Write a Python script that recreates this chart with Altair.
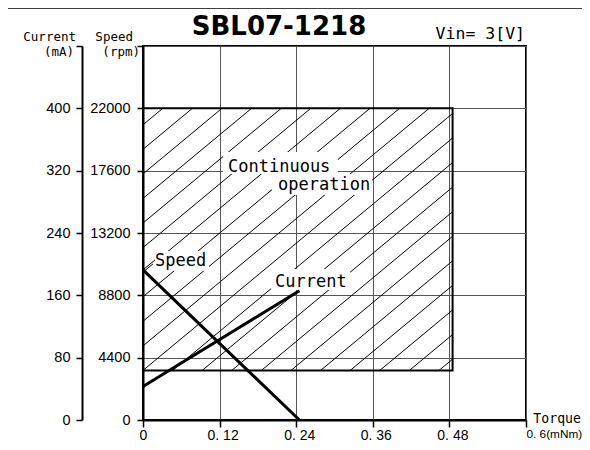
import json
import altair as alt
import pandas as pd

# ---------------- data ----------------
torque_ticks = [0, 0.12, 0.24, 0.36, 0.48, 0.6]
torque_tick_labels = ["0", "0. 12", "0. 24", "0. 36", "0. 48", "0. 6(mNm)"]
speed_ticks = [0, 4400, 8800, 13200, 17600, 22000, 26400]
speed_tick_labels = ["0", "4400", "8800", "13200", "17600", "22000", ""]
current_ticks = [0, 80, 160, 240, 320, 400, 480]
current_tick_labels = ["0", "80", "160", "240", "320", "400", ""]

speed_torque = [0, 0.245]
speed_rpm = [10600, 0]
current_torque = [0, 0.245]
current_ma = [43, 166]

op_torque = [0, 0.485]
op_speed = [3500, 22000]

plot_labels = ["Speed", "Continuous", "operation", "Current"]
title_text = "SBL07-1218"
vin_text = "Vin= 3[V]"

# ---------------- layout ----------------
W, H = 383, 374
PAD_L, PAD_T, PAD_R, PAD_B = 135, 38, 56, 22
X_MAX, SPD_MAX, CUR_MAX = 0.6, 26400, 480
ORIGIN_X, ORIGIN_Y = 8 + PAD_L, 8 + PAD_T          # page position of plot's top-left
BOTTOM_Y = ORIGIN_Y + H

NUM_FONT = "Liberation Sans"
TXT_FONT = "DejaVu Sans Mono"


def tq(px):
    return (px - ORIGIN_X) / W * X_MAX


def spd(py):
    return (BOTTOM_Y - py) / H * SPD_MAX


# annotation placements (page pixels): left x, baseline y
label_pos = [(155, 266), (228, 172), (278, 190), (275, 287)]
# white boxes behind labels (page pixels): x0, x1, y0, y1
label_box = [(153, 209, 251, 271), (223, 338, 152, 174), (272, 372, 174, 195), (271, 350, 269, 290)]

labels_df = pd.DataFrame({
    "text": plot_labels,
    "x": [tq(p[0]) for p in label_pos],
    "y": [spd(p[1]) for p in label_pos],
})
boxes_df = pd.DataFrame({
    "x0": [tq(b[0]) for b in label_box],
    "x1": [tq(b[1]) for b in label_box],
    "y0": [spd(b[3]) for b in label_box],
    "y1": [spd(b[2]) for b in label_box],
})

speed_df = pd.DataFrame({"t": speed_torque, "v": speed_rpm})
current_df = pd.DataFrame({"t": current_torque, "v": current_ma})
op_df = pd.DataFrame({"x0": [op_torque[0]], "x1": [op_torque[1]], "y0": [op_speed[0]], "y1": [op_speed[1]]})
leader_df = pd.DataFrame({"t": [speed_torque[0], tq(155)], "v": [speed_rpm[0], spd(260)]})

# hatch pattern for the continuous-operation region (pixel space -> data space)
slope, step = 0.83, 29.6
rx0, rx1 = op_torque[0] / X_MAX * W, op_torque[1] / X_MAX * W
ry0, ry1 = op_speed[0] / SPD_MAX * H, op_speed[1] / SPD_MAX * H
segs = []
for k in range(-30, 30):
    base = rx0 + k * step
    a = max(rx0, base)
    b = min(rx1, base + (ry1 - ry0) / slope)
    if b > a:
        segs.append({
            "x0": a / W * X_MAX, "y0": (ry0 + slope * (a - base)) / H * SPD_MAX,
            "x1": b / W * X_MAX, "y1": (ry0 + slope * (b - base)) / H * SPD_MAX,
        })
hatch_df = pd.DataFrame(segs)


def label_expr(vals, labs):
    return f"{json.dumps(labs)}[indexof({json.dumps(vals)}, datum.value)]"


x_scale = alt.Scale(domain=[0, X_MAX], nice=False, zero=False)
s_scale = alt.Scale(domain=[0, SPD_MAX], nice=False, zero=False)
c_scale = alt.Scale(domain=[0, CUR_MAX], nice=False, zero=False)

x_axis = alt.Axis(
    values=torque_ticks, labelExpr=label_expr(torque_ticks, torque_tick_labels), title=None,
    grid=True, gridColor="#555", gridWidth=1, domainColor="black", domainWidth=2,
    tickColor="black", tickWidth=1.5, tickSize=7, labelFont=NUM_FONT,
    labelFontSize={"condition": {"test": "datum.value == 0.6", "value": 11.8}, "value": 14},
    labelColor="black", labelPadding=1, labelFlush=False, labelOverlap=False,
    labelAlign={"condition": {"test": "datum.value == 0.6", "value": "left"}, "value": "center"},
    labelOffset={"condition": {"test": "datum.value == 0 || datum.value == 0.6", "value": 0}, "value": 3},
)
s_axis = alt.Axis(
    values=speed_ticks, labelExpr=label_expr(speed_ticks, speed_tick_labels), title=None, orient="left",
    grid=True, gridColor="#555", gridWidth=1, domainColor="black", domainWidth=2,
    tickColor="black", tickWidth=1.5, tickSize=6, labelFont=NUM_FONT, labelFontSize=14.5,
    labelColor="black", labelPadding=7, labelOverlap=False,
)
c_axis = alt.Axis(
    values=current_ticks, labelExpr=label_expr(current_ticks, current_tick_labels), title=None,
    orient="left", offset=61, grid=False, domainColor="black", domainWidth=2,
    tickColor="black", tickWidth=1.5, tickSize=6, labelFont=NUM_FONT, labelFontSize=14.5,
    labelColor="black", labelPadding=6, labelOverlap=False,
)

X = lambda f: alt.X(f, type="quantitative", scale=x_scale, axis=x_axis)
YS = lambda f: alt.Y(f, type="quantitative", scale=s_scale, axis=s_axis)

hatch = alt.Chart(hatch_df).mark_rule(color="black", strokeWidth=1).encode(
    x=X("x0"), x2="x1", y=YS("y0"), y2="y1")
op_rect = alt.Chart(op_df).mark_rect(fillOpacity=0, stroke="black", strokeWidth=2).encode(
    x=X("x0"), x2="x1", y=YS("y0"), y2="y1")
masks = alt.Chart(boxes_df).mark_rect(color="white").encode(
    x=X("x0"), x2="x1", y=YS("y0"), y2="y1")
speed_line = alt.Chart(speed_df).mark_line(color="black", strokeWidth=3).encode(
    x=X("t"), y=YS("v"))
leader = alt.Chart(leader_df).mark_line(color="black", strokeWidth=1).encode(
    x=X("t"), y=YS("v"))
texts = alt.Chart(labels_df).mark_text(
    align="left", baseline="alphabetic", font=TXT_FONT, fontSize=17, color="black").encode(
    x=X("x"), y=YS("y"), text="text:N")

inner = alt.layer(hatch, op_rect, masks, speed_line, leader, texts)

current_line = alt.Chart(current_df).mark_line(color="black", strokeWidth=3).encode(
    x=X("t"), y=alt.Y("v", type="quantitative", scale=c_scale, axis=c_axis))

one = pd.DataFrame({"a": [0]})


def note(txt, x, y, align, size, font=TXT_FONT, weight="normal"):
    return alt.Chart(one).mark_text(
        text=txt, align=align, baseline="alphabetic", font=font, fontSize=size,
        fontWeight=weight, color="black").encode(x=alt.value(x), y=alt.value(y))


frame = alt.Chart(one).mark_rect(fillOpacity=0, stroke="black", strokeWidth=1.5).encode(
    x=alt.value(5 - ORIGIN_X), y=alt.value(8 - ORIGIN_Y), x2=alt.value(700), y2=alt.value(700))

notes = [
    note(title_text, 279 - ORIGIN_X, 35 - ORIGIN_Y, "center", 26, font="DejaVu Sans", weight="bold"),
    note(vin_text, 525 - ORIGIN_X, 38.5 - ORIGIN_Y, "right", 16.5),
    note("Current", 76 - ORIGIN_X, 41 - ORIGIN_Y, "right", 12.5),
    note("(mA)", 74 - ORIGIN_X, 56 - ORIGIN_Y, "right", 12.5),
    note("Speed", 133 - ORIGIN_X, 41 - ORIGIN_Y, "right", 12.5),
    note("(rpm)", 140 - ORIGIN_X, 56 - ORIGIN_Y, "right", 12.5),
    note("Torque", 581 - ORIGIN_X, 423 - ORIGIN_Y, "right", 13.2),
]

chart = alt.layer(frame, inner, current_line, *notes).resolve_scale(y="independent").properties(
    width=W, height=H,
    padding={"left": PAD_L, "top": PAD_T, "right": PAD_R, "bottom": PAD_B},
    autosize=alt.AutoSizeParams(type="none"),
    background="white",
).configure_view(stroke="black", strokeWidth=2)

chart.save("out.html", embed_options={"renderer": "svg", "actions": False})
